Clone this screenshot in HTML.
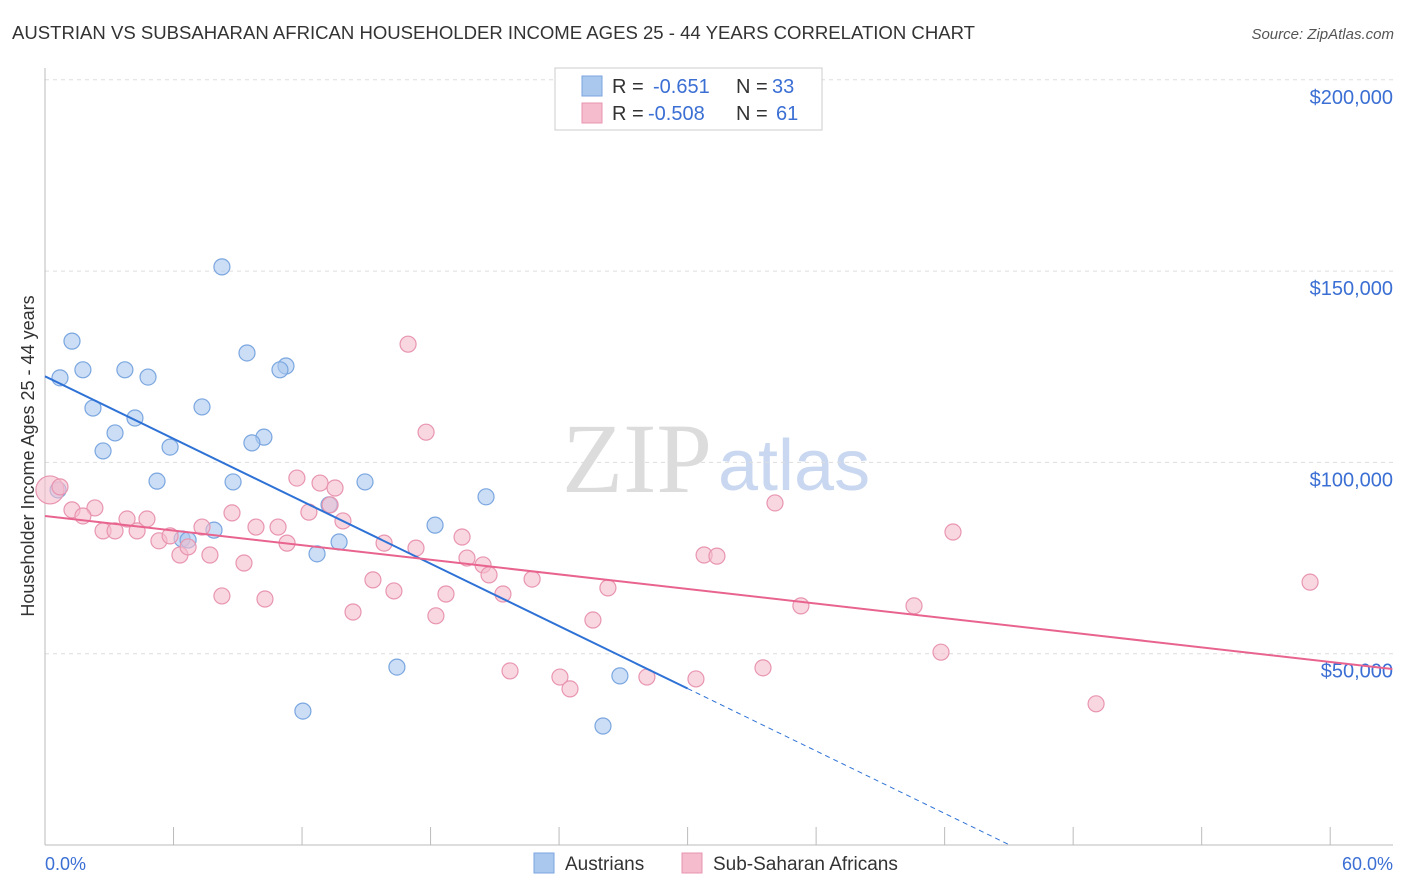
<!DOCTYPE html>
<html><head><meta charset="utf-8"><style>
body{margin:0;background:#fff;font-family:"Liberation Sans",sans-serif;}
svg{display:block}
</style></head><body>
<svg id="chart" width="1406" height="892">
<text x="12" y="39" font-size="18" fill="#333" textLength="963" lengthAdjust="spacingAndGlyphs">AUSTRIAN VS SUBSAHARAN AFRICAN HOUSEHOLDER INCOME AGES 25 - 44 YEARS CORRELATION CHART</text>
<text x="1394" y="39" font-size="15" fill="#555" font-style="italic" text-anchor="end">Source: ZipAtlas.com</text>
<text x="712" y="492" font-size="100" fill="#dcdcdc" font-family="Liberation Serif,serif" text-anchor="end">ZIP</text>
<text x="718" y="490" font-size="72" fill="#c9d8f0">atlas</text>
<g id="grid"></g><g id="axes"></g><g id="marks"></g>
<text transform="translate(34,456) rotate(-90)" font-size="18" fill="#333" text-anchor="middle">Householder Income Ages 25 - 44 years</text>
<text x="45" y="870" font-size="18" fill="#3b6fd4">0.0%</text>
<text x="1393" y="870" font-size="18" fill="#3b6fd4" text-anchor="end">60.0%</text>
<g>
<rect x="555" y="68" width="267" height="62" fill="#fff" stroke="#ccc"/>
<rect x="582" y="76" width="20" height="20" fill="#aac8ee" stroke="#7aa6e0"/>
<rect x="582" y="103" width="20" height="20" fill="#f5bccd" stroke="#e895b0"/>
<text y="93" font-size="20" fill="#333"><tspan x="612">R =</tspan><tspan x="653" fill="#3b6fd4">-0.651</tspan><tspan x="736">N =</tspan><tspan x="772" fill="#3b6fd4">33</tspan></text>
<text y="120" font-size="20" fill="#333"><tspan x="612">R =</tspan><tspan x="648" fill="#3b6fd4">-0.508</tspan><tspan x="736">N =</tspan><tspan x="776" fill="#3b6fd4">61</tspan></text>
</g>
<g>
<rect x="534" y="853" width="20" height="20" fill="#aac8ee" stroke="#7aa6e0"/>
<text x="565" y="870" font-size="19" fill="#333">Austrians</text>
<rect x="682" y="853" width="20" height="20" fill="#f5bccd" stroke="#e895b0"/>
<text x="713" y="870" font-size="19" fill="#333">Sub-Saharan Africans</text>
</g>
</svg>
<script>
const yTicks=[50,100,150,200];
const yTickLabels=["$50,000","$100,000","$150,000","$200,000"];
const xTicks=[0,6,12,18,24,30,36,42,48,54,60];
const blueX=[1.26,1.77,0.70,3.73,4.81,2.24,4.20,3.27,2.71,5.84,7.33,8.26,9.43,11.25,10.97,10.22,9.66,5.23,8.78,14.94,13.26,20.59,18.21,7.89,6.40,6.68,13.73,12.70,16.43,26.84,12.04,26.05,0.61];
const blueY=[131.7,124.2,122.1,124.2,122.3,114.2,111.6,107.7,103.0,104.0,114.5,151.1,128.6,125.2,124.2,106.6,105.1,95.1,94.9,94.9,88.9,91.0,83.6,82.3,80.0,79.7,79.2,76.1,46.5,44.2,35.0,31.1,92.8];
const pinkX=[0.23,0.70,1.26,2.33,1.77,2.71,3.27,3.83,4.30,4.76,5.32,5.84,6.30,6.68,7.33,7.70,8.26,8.73,9.29,9.85,10.27,10.88,11.30,11.76,12.32,12.84,13.31,13.91,13.54,14.38,15.31,15.83,16.29,16.95,17.32,17.79,18.25,18.72,19.47,19.70,20.45,20.73,21.38,21.71,22.74,24.04,24.51,25.58,26.28,28.10,30.39,30.77,31.37,33.52,34.08,35.29,40.57,41.83,42.39,49.07,59.06];
const pinkY=[92.8,93.6,87.6,88.1,86.0,82.1,82.1,85.2,82.1,85.2,79.5,80.8,75.8,77.9,83.1,75.8,65.1,86.8,73.7,83.1,64.3,83.1,78.9,95.9,87.0,94.6,88.9,84.7,93.3,60.9,69.3,78.9,66.4,130.9,77.6,107.9,59.9,65.6,80.5,75.0,73.2,70.6,65.6,45.5,69.5,43.9,40.8,58.8,67.2,43.9,43.4,75.8,75.5,46.3,89.4,62.5,62.5,50.4,81.8,36.9,68.7];
const blueTrend=[122.5,-2.72];
const pinkTrend=[86.0,-0.636];
const X=v=>45+v*21.42, Y=v=>845-v*3.826;
const NS="http://www.w3.org/2000/svg";
function mk(tag,attrs,parent){const e=document.createElementNS(NS,tag);for(const k in attrs)e.setAttribute(k,attrs[k]);parent.appendChild(e);return e;}
const grid=document.getElementById('grid'),axes=document.getElementById('axes'),marks=document.getElementById('marks');
yTicks.forEach((t,i)=>{
 const l=mk('line',{x1:45,x2:1393,y1:Y(t),y2:Y(t),stroke:'#ddd','stroke-dasharray':'4,4'},grid);
 
 
 const tx=mk('text',{x:1393,y:Y(t)+24,'font-size':20,fill:'#3b6fd4','text-anchor':'end'},axes);
 tx.textContent=yTickLabels[i];
 
 
});
const ya=mk('line',{x1:45,x2:45,y1:68,y2:845,stroke:'#bbb'},axes);


const xa=mk('line',{x1:45,x2:1393,y1:845,y2:845,stroke:'#bbb'},axes);


xTicks.forEach(t=>{
 const l=mk('line',{x1:X(t),x2:X(t),y1:827,y2:845,stroke:'#bbb'},axes);
 
 
});
function pts(xs,ys,fill,stroke,name){
 xs.forEach((x,i)=>{
  const r=(name==='pink-point'&&i===0)?14:8;
  const c=mk('circle',{cx:X(x),cy:Y(ys[i]),r:r,fill:fill,'fill-opacity':0.6,stroke:stroke,'stroke-width':1.2},marks);
  
  
 });
}
pts(blueX,blueY,'#aac8ee','#7aa6e0','blue-point');
pts(pinkX,pinkY,'#f5bccd','#e895b0','pink-point');
const bEnd=30, bZero=-blueTrend[0]/blueTrend[1];
const b1=mk('line',{x1:X(0),y1:Y(blueTrend[0]),x2:X(bEnd),y2:Y(blueTrend[0]+blueTrend[1]*bEnd),stroke:'#2f72d6','stroke-width':2},marks);


const b2=mk('line',{x1:X(bEnd),y1:Y(blueTrend[0]+blueTrend[1]*bEnd),x2:X(bZero),y2:Y(0),stroke:'#2f72d6','stroke-width':1,'stroke-dasharray':'5,4'},marks);


const pEnd=62.9;
const p1=mk('line',{x1:X(0),y1:Y(pinkTrend[0]),x2:X(pEnd),y2:Y(pinkTrend[0]+pinkTrend[1]*pEnd),stroke:'#e8648f','stroke-width':2},marks);


</script>
</body></html>
